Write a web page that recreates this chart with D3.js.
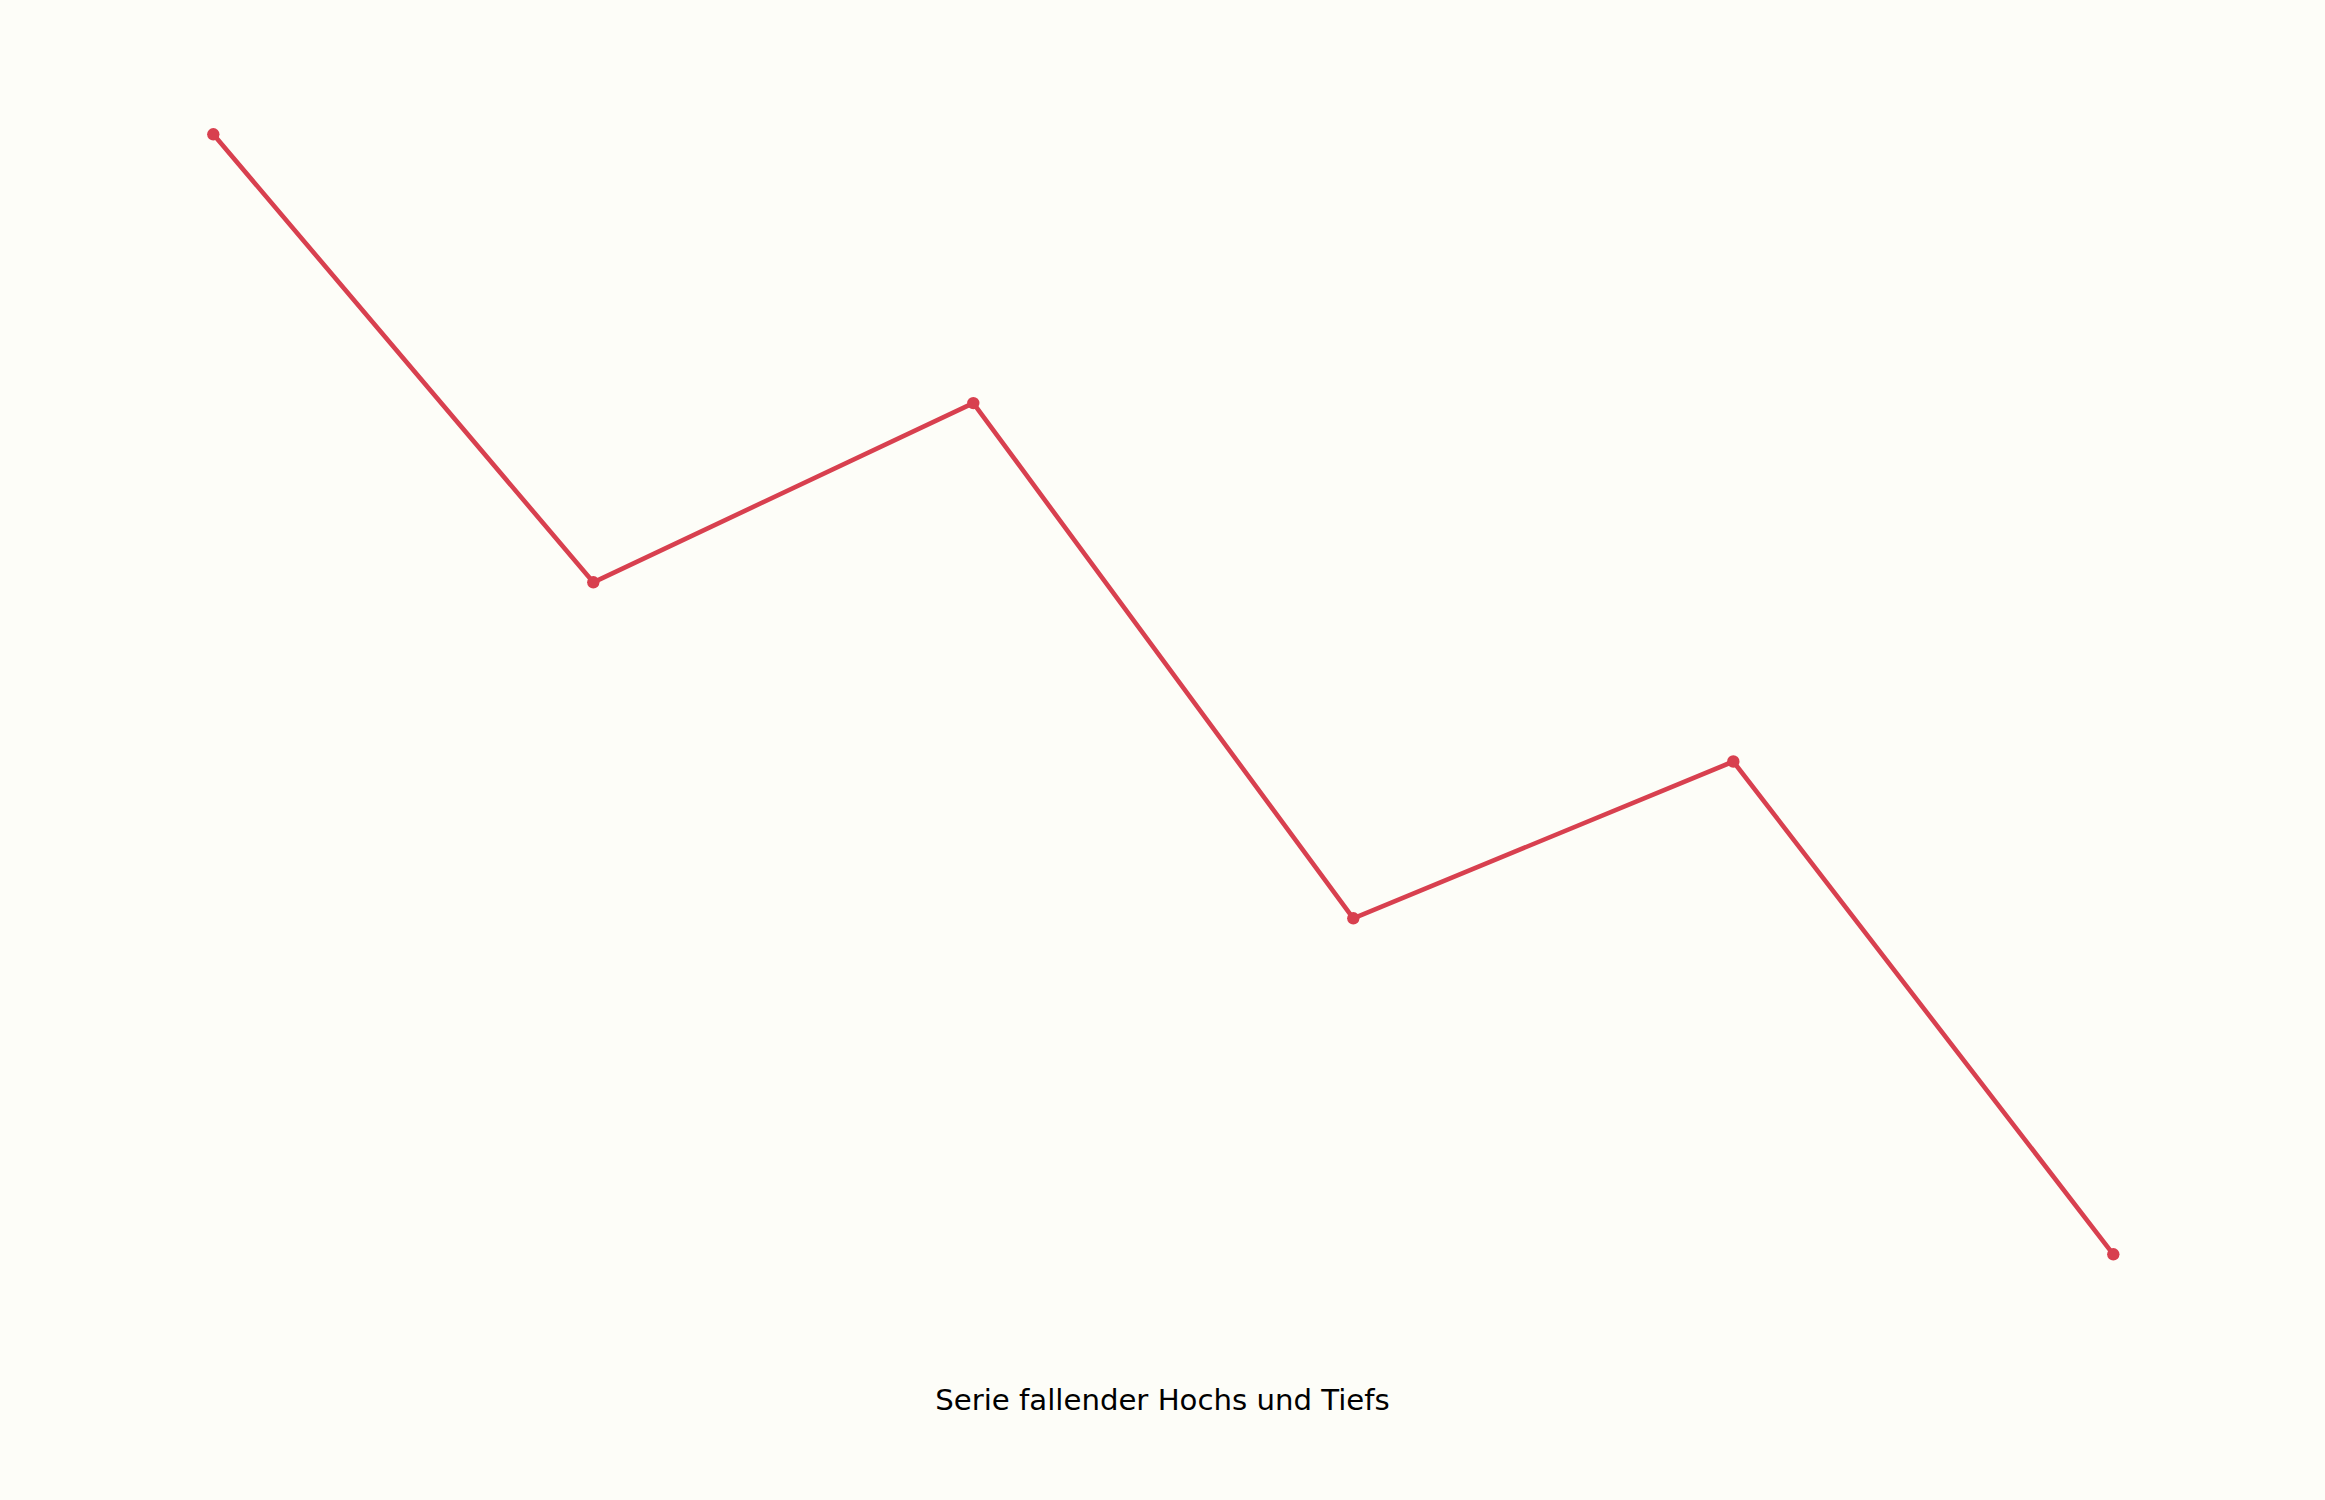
<!DOCTYPE html>
<html lang="de">
<head>
    <meta charset="UTF-8">
    <title>Serie fallender Hochs und Tiefs</title>
    <style>
        html, body { margin: 0; padding: 0; background: #fdfdf8; }
        svg { display: block; }
    </style>
</head>
<body>
    <svg width="2325" height="1500"></svg>

    <script src="https://d3js.org/d3.v7.min.js"></script>
    <script>
        // Punkte der Serie (Index -> Wert)
        let steps = [0, 1, 2, 3, 4, 5];
        let values = [100, 60, 76, 30, 44, 0];
        let title = "Serie fallender Hochs und Tiefs";

        let width = 2325, height = 1500;
        let lineColor = "#d8404f";

        let svg = d3.select("svg");
        svg.append("rect")
            .attr("width", width)
            .attr("height", height)
            .attr("fill", "#fdfdf8");

        let x = d3.scaleLinear().domain([0, 5]).range([213.3, 2113.3]);
        let y = d3.scaleLinear().domain([0, 100]).range([1254.3, 134.3]);

        let data = steps.map(function(s, i) { return { s: s, v: values[i] }; });

        let line = d3.line()
            .x(function(d) { return x(d.s); })
            .y(function(d) { return y(d.v); });

        svg.append("path")
            .datum(data)
            .attr("d", line)
            .attr("fill", "none")
            .attr("stroke", lineColor)
            .attr("stroke-width", 4.6)
            .attr("stroke-linejoin", "round");

        svg.selectAll("circle.pt")
            .data(data)
            .enter()
            .append("circle")
            .attr("class", "pt")
            .attr("cx", function(d) { return x(d.s); })
            .attr("cy", function(d) { return y(d.v); })
            .attr("r", 6.2)
            .attr("fill", lineColor);

        svg.append("text")
            .attr("x", width / 2)
            .attr("y", 1410)
            .attr("text-anchor", "middle")
            .attr("font-family", "DejaVu Sans")
            .attr("font-size", 29.2)
            .attr("fill", "#000")
            .text(title);
    </script>
</body>
</html>
